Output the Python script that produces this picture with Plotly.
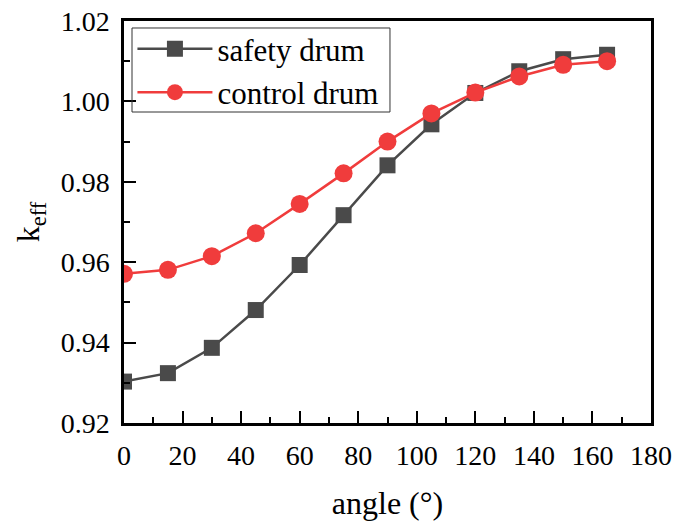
import plotly.graph_objects as go

angles = [0, 15, 30, 45, 60, 75, 90, 105, 120, 135, 150, 165]
safety_drum = [0.9303, 0.9324, 0.9387, 0.9481, 0.9593, 0.9717, 0.9841, 0.9943, 1.0021, 1.0075, 1.0105, 1.0116]
control_drum = [0.9571, 0.9581, 0.9615, 0.9672, 0.9745, 0.9821, 0.9900, 0.9970, 1.0022, 1.0062, 1.0091, 1.0100]

x_ticks = [0, 20, 40, 60, 80, 100, 120, 140, 160, 180]
x_ticklabels = ["0", "20", "40", "60", "80", "100", "120", "140", "160", "180"]
y_ticks = [0.92, 0.94, 0.96, 0.98, 1.00, 1.02]
y_ticklabels = ["0.92", "0.94", "0.96", "0.98", "1.00", "1.02"]

FONT = "Liberation Serif"
TICKFONT = dict(family=FONT, size=28, color="black")

fig = go.Figure()
fig.add_trace(go.Scatter(
    x=angles, y=safety_drum, name="safety drum", mode="lines+markers",
    line=dict(color="#4a4a4a", width=2.5),
    marker=dict(symbol="square", size=16, color="#4a4a4a"),
))
fig.add_trace(go.Scatter(
    x=angles, y=control_drum, name="control drum", mode="lines+markers",
    line=dict(color="#f03c3c", width=2.5),
    marker=dict(symbol="circle", size=18, color="#f03c3c"),
))

fig.update_layout(
    template="none",
    width=687, height=524,
    font=dict(family=FONT, size=28, color="black"),
    margin=dict(l=124, r=36, t=21, b=101),
    paper_bgcolor="white", plot_bgcolor="white",
    showlegend=True,
    xaxis=dict(
        range=[0, 180], tickmode="array", tickvals=x_ticks, ticktext=x_ticklabels,
        showline=True, linecolor="black", linewidth=2.5, mirror=True,
        ticks="inside", tickcolor="black", tickwidth=2, ticklen=12,
        showgrid=False, zeroline=False, tickfont=TICKFONT, ticklabelstandoff=6,
        minor=dict(ticks="inside", ticklen=6, tickwidth=2, tickcolor="black", dtick=10, tick0=0, showgrid=False),
        title=dict(text="angle (°)", font=dict(family=FONT, size=32, color="black"), standoff=22),
    ),
    yaxis=dict(
        range=[0.92, 1.02], tickmode="array", tickvals=y_ticks, ticktext=y_ticklabels,
        showline=True, linecolor="black", linewidth=2.5, mirror=True,
        ticks="inside", tickcolor="black", tickwidth=2, ticklen=12,
        showgrid=False, zeroline=False, tickfont=TICKFONT, ticklabelstandoff=6,
        minor=dict(ticks="inside", ticklen=6, tickwidth=2, tickcolor="black", dtick=0.01, tick0=0.92, showgrid=False),
        title=dict(text="k<sub>eff</sub>", font=dict(family=FONT, size=32, color="black"), standoff=12),
    ),
    legend=dict(
        x=0.016, y=0.997, xanchor="left", yanchor="top",
        borderwidth=0, bgcolor="rgba(0,0,0,0)",
        font=dict(family=FONT, size=31, color="black"),
        itemwidth=75, tracegroupgap=0,
    ),
    shapes=[dict(
        type="rect", xref="paper", yref="paper",
        x0=0.0152, x1=0.5047, y0=0.7736, y1=0.9826,
        line=dict(color="#333333", width=1), fillcolor="rgba(0,0,0,0)", layer="above",
    )],
)

fig.write_html("out.html")
